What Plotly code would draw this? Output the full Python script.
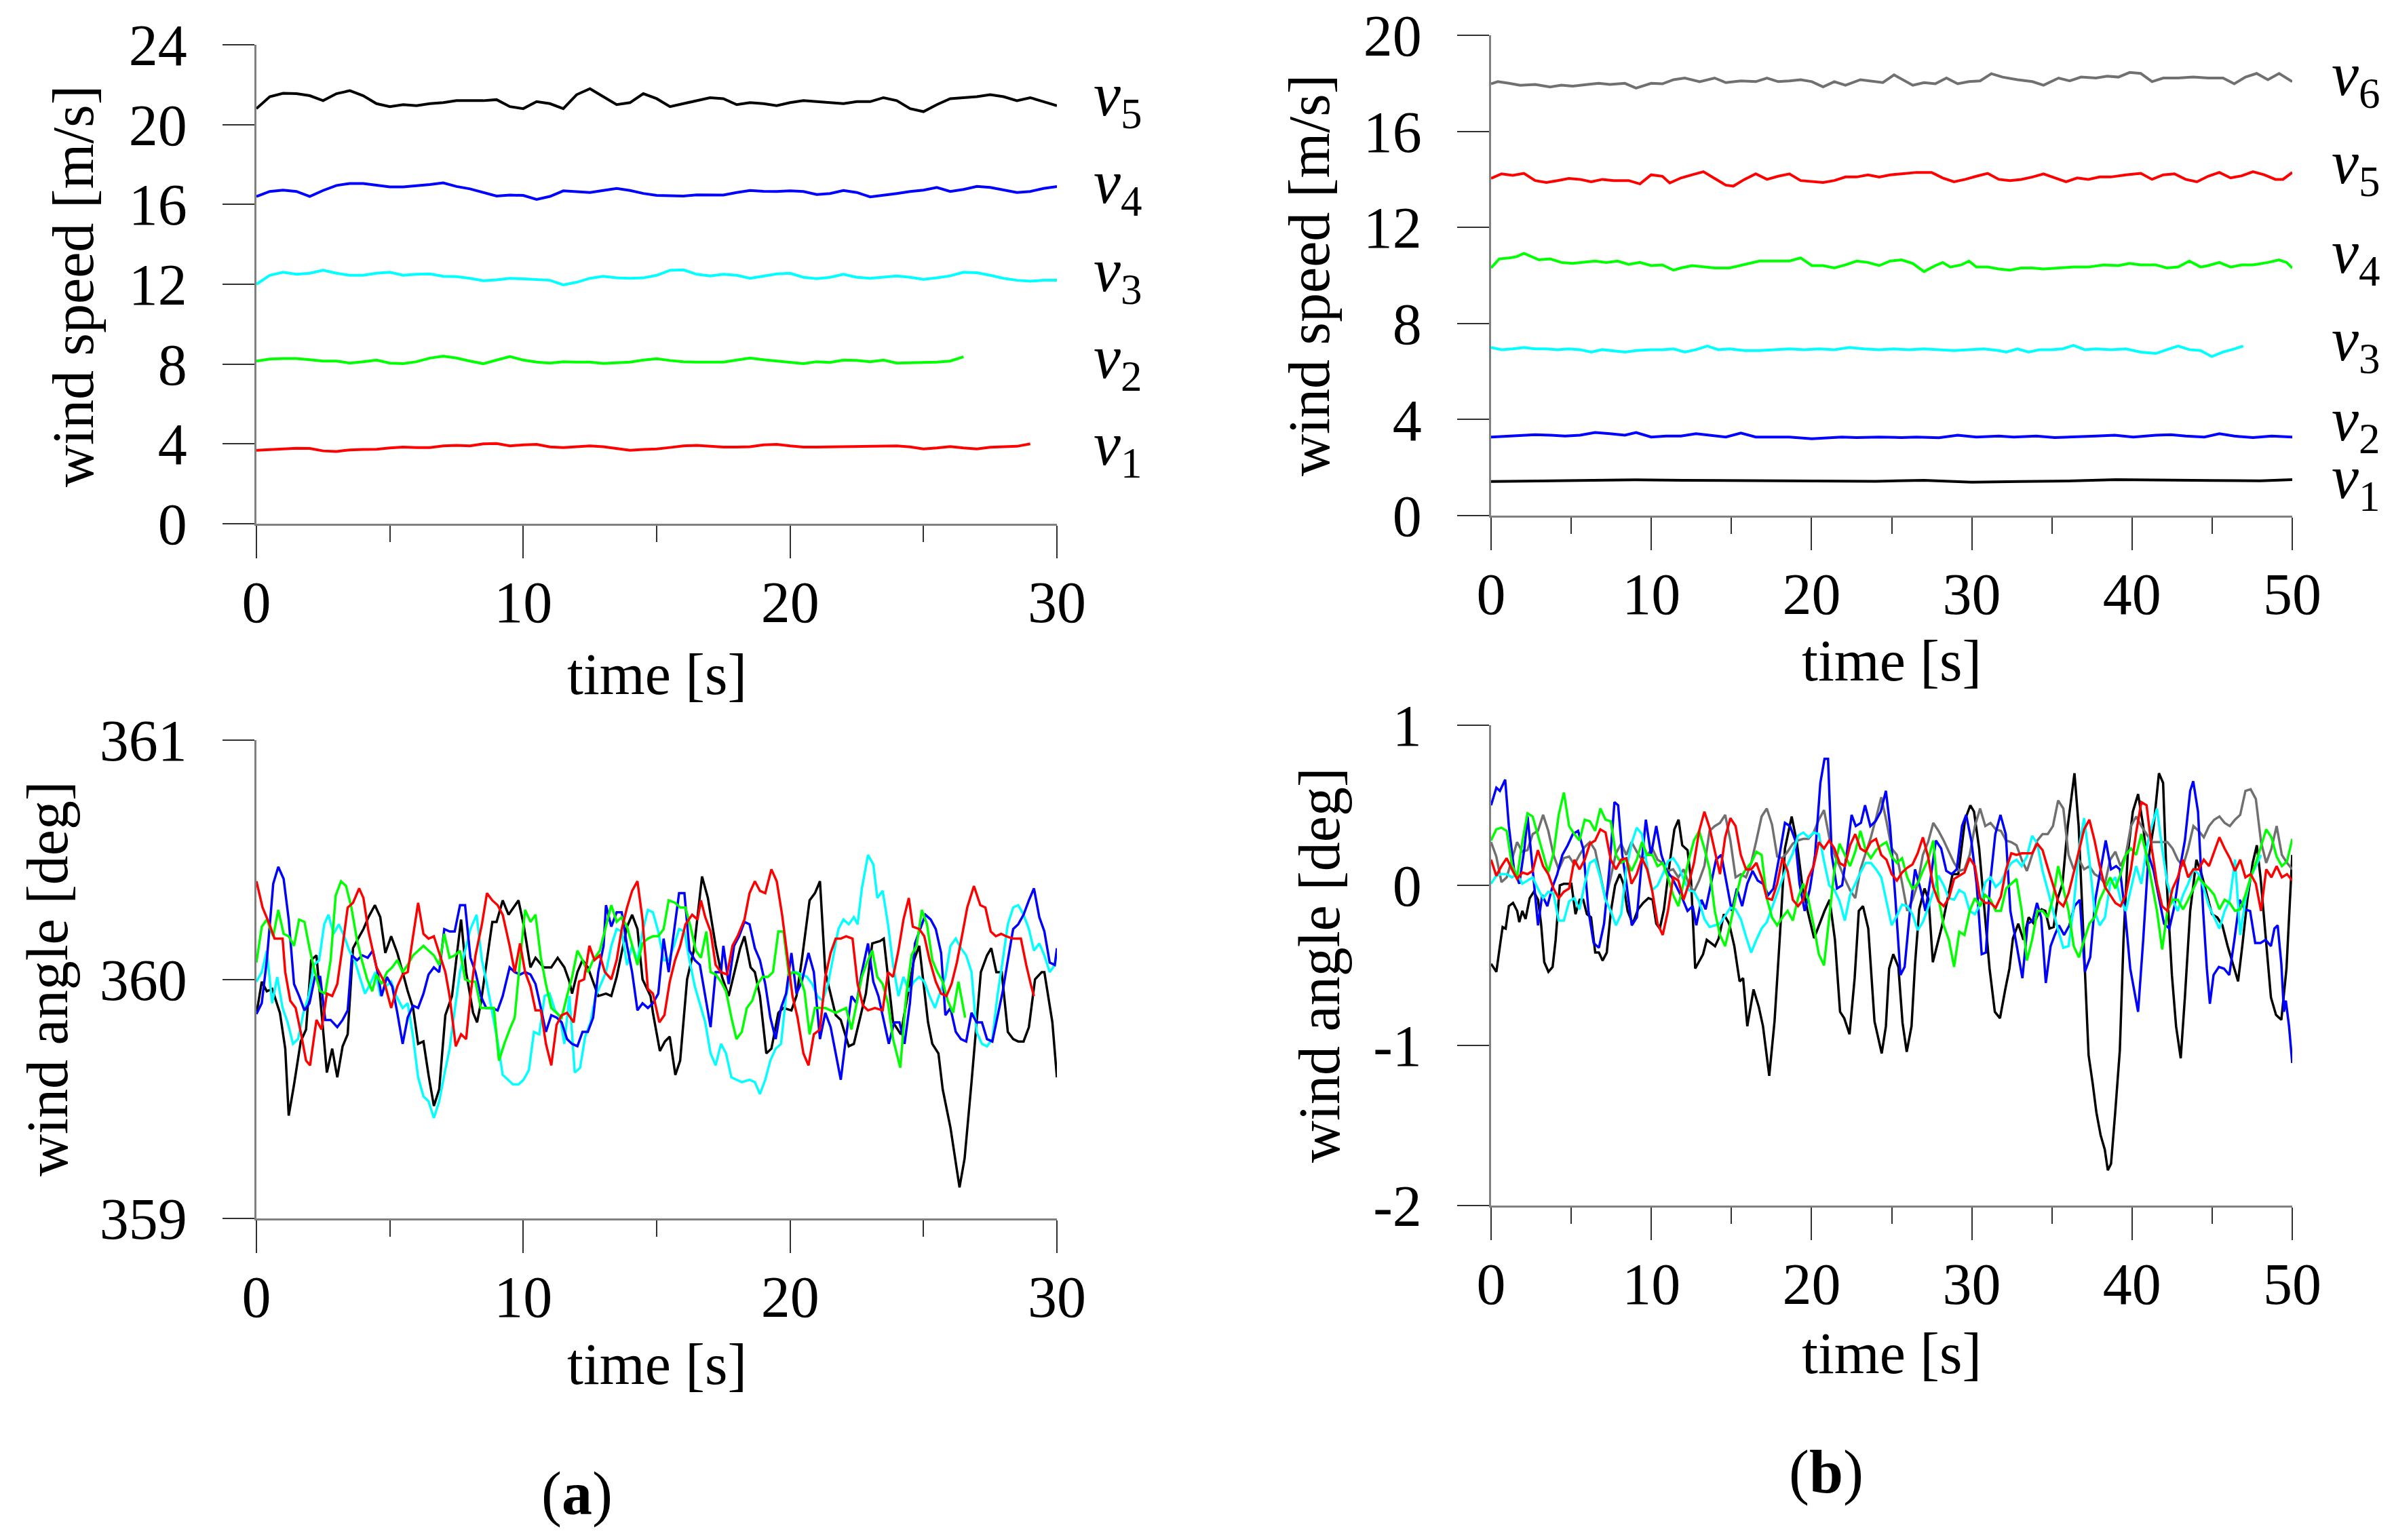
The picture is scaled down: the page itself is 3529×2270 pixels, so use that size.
import plotly.graph_objects as go

# ---------------- data: panel (a), wind speed (sampled every 0.5 s) ----------------
t_a_top = [i * 0.5 for i in range(61)]
a_v5 = [20.8,21.4,21.57,21.55,21.45,21.2,21.55,21.7,21.45,21.05, 20.9,21.0,20.95,21.05,21.1,21.2,21.2,21.2,21.25,20.9,
        20.8,21.15,21.05,20.8,21.5,21.8,21.4,21.0,21.1,21.55, 21.3,20.9,21.05,21.2,21.35,21.3,21.0,21.1,21.05,20.95,
        21.1,21.2,21.15,21.1,21.05,21.15,21.15,21.35,21.2,20.8, 20.65,21.0,21.3,21.35,21.4,21.5,21.4,21.2,21.35,21.15, 20.95]
a_v4 = [16.4,16.65,16.72,16.65,16.4,16.7,16.95,17.05,17.05,16.95, 16.88,16.88,16.93,17.0,17.08,16.9,16.78,16.6,16.42,16.47,
        16.45,16.25,16.4,16.68,16.65,16.6,16.7,16.8,16.7,16.55, 16.45,16.42,16.42,16.48,16.48,16.47,16.6,16.7,16.66,16.65,
        16.68,16.65,16.5,16.55,16.7,16.6,16.38,16.45,16.55,16.65, 16.72,16.85,16.65,16.75,16.9,16.85,16.72,16.6,16.65,16.8, 16.9]
a_v3 = [12.0,12.45,12.6,12.5,12.55,12.7,12.55,12.45,12.45,12.55, 12.6,12.45,12.5,12.52,12.4,12.38,12.3,12.18,12.22,12.3,
        12.27,12.23,12.2,11.97,12.1,12.3,12.4,12.32,12.3,12.32, 12.45,12.7,12.72,12.5,12.42,12.5,12.45,12.3,12.4,12.52,
        12.55,12.35,12.28,12.35,12.5,12.35,12.3,12.35,12.42,12.35, 12.25,12.32,12.42,12.6,12.58,12.45,12.3,12.2,12.15,12.2, 12.2]
a_v2 = [8.15,8.25,8.28,8.28,8.22,8.15,8.15,8.05,8.12,8.2, 8.05,8.02,8.12,8.3,8.4,8.3,8.15,8.02,8.2,8.38,
        8.2,8.1,8.05,8.12,8.1,8.1,8.03,8.05,8.1,8.2, 8.27,8.18,8.12,8.1,8.1,8.1,8.2,8.3,8.22,8.15,
        8.07,8.02,8.12,8.08,8.2,8.18,8.12,8.2,8.05,8.05, 8.08,8.1,8.15,8.37]
a_v1 = [3.68,3.72,3.77,3.78,3.77,3.65,3.62,3.7,3.72,3.73, 3.8,3.84,3.82,3.82,3.9,3.93,3.9,4.0,4.02,3.9,
        3.95,3.98,3.85,3.82,3.86,3.9,3.86,3.78,3.68,3.72, 3.75,3.82,3.9,3.93,3.88,3.84,3.84,3.86,3.95,3.98,
        3.9,3.84,3.84,3.85,3.84,3.84,3.85,3.88,3.9,3.85, 3.75,3.8,3.87,3.8,3.75,3.83,3.85,3.88,4.0]

# ---------------- data: panel (a), wind angle ----------------
t_ab_black = [0,0.2,0.39,0.59,0.88,1.08,1.21,1.41,1.66,1.86, 2.05,2.25,2.64,2.84,3.03,3.23,3.42,3.62,3.81,4.01,
              4.2,4.44,4.64,4.83,5.05,5.28,5.48,5.67,5.87,6.06, 6.26,6.45,6.65,6.85,7.08,7.33,7.53,7.67,7.86,8.12,
              8.27,8.41,8.84,9.0,9.23,9.45,9.82,10.01,10.27,10.46, 10.76,11.05,11.29,11.54,11.73,11.83,12.03,12.22,12.42,12.62,
              12.81,13.1,13.3,13.5,13.89,14.08,14.28,14.47,14.77,14.86, 15.12,15.31,15.49,15.7,15.88,16.14,16.39,16.7,16.92,17.21,
              17.45,17.7,17.9,18.13,18.29,18.52,18.68,18.87,19.11,19.3, 19.56,19.75,20.05,20.24,20.44,20.73,20.93,21.12,21.32,21.71,
              21.9,22.2,22.39,22.59,22.84,23.08,23.37,23.51,23.86,24.15, 24.64,24.84,25.03,25.17,25.33,25.56,25.72,26.01,26.35,26.54,
              26.8,26.99,27.15,27.38,27.54,27.73,27.93,28.16,28.36,28.55, 28.75,28.95,29.18,29.43,29.53,29.83,30]
ab_black = [359.855,359.99,359.95,359.96,359.86,359.71,359.43,359.56,359.74,359.79, 360.08,360.1,359.61,359.71,359.59,359.72,359.77,360.13,360.17,360.21,
            360.26,360.31,360.26,360.11,360.18,360.11,360.03,359.95,359.88,359.73, 359.74,359.6,359.47,359.54,359.85,359.93,360.12,360.25,360.03,359.86,
            359.82,359.9,360.24,360.24,360.33,360.27,360.33,360.23,360.05,360.09, 360.05,360.05,360.09,360.05,359.99,359.94,360.03,360.08,360.05,359.99,
            359.93,359.94,359.93,360.01,360.22,360.27,360.21,360.0,359.93,359.86, 359.7,359.74,359.76,359.6,359.66,360.0,360.12,360.43,360.34,360.14,
            360.01,359.93,360.02,360.13,360.18,360.05,360.03,359.93,359.69,359.71, 359.86,359.88,359.87,359.93,360.08,360.33,360.36,360.41,360.03,359.85,
            359.83,359.72,359.73,359.82,359.94,360.15,360.16,360.17,359.82,359.77, 360.08,360.14,359.95,359.82,359.73,359.69,359.54,359.38,359.13,359.25,
            359.57,359.82,360.03,360.1,360.13,360.03,360.03,359.78,359.75,359.74, 359.74,359.8,360.0,360.03,360.03,359.82,359.59]

t_ab_red = [0,0.23,0.49,0.68,0.98,1.08,1.27,1.47,1.66,1.86, 2.01,2.25,2.44,2.64,2.84,3.03,3.23,3.42,3.62,3.85,
            4.01,4.2,4.5,4.79,5.05,5.28,5.48,5.67,5.87,6.06, 6.26,6.45,6.65,6.88,7.08,7.24,7.47,7.67,7.86,8.02,
            8.21,8.45,8.64,8.84,9.04,9.23,9.49,9.68,9.88,10.07, 10.27,10.46,10.66,10.85,11.05,11.25,11.44,11.64,11.89,12.09,
            12.28,12.48,12.67,12.87,13.06,13.3,13.5,13.69,13.89,14.08, 14.28,14.47,14.67,14.86,15.1,15.29,15.49,15.69,15.88,16.08,
            16.33,16.53,16.66,16.82,17.02,17.21,17.41,17.64,17.84,18.03, 18.29,18.48,18.68,18.87,19.07,19.3,19.5,19.7,19.89,20.09,
            20.28,20.5,20.69,20.89,21.12,21.32,21.52,21.71,21.9,22.1, 22.34,22.53,22.73,22.92,23.18,23.47,23.67,23.86,24.06,24.25,
            24.45,24.6,24.84,25.03,25.23,25.46,25.66,25.86,26.05,26.25, 26.44,26.64,26.89,27.13,27.32,27.52,27.71,27.91,28.1,28.36,
            28.65,28.85,29.04,29.14]
ab_red = [360.41,360.3,360.23,360.17,360.17,360.03,359.91,359.88,359.78,359.66, 359.64,359.83,359.79,359.94,359.93,359.98,360.14,360.3,360.32,360.38,
          360.34,360.2,360.05,359.99,359.88,359.97,360.02,360.03,360.18,360.32, 360.19,360.17,360.18,360.1,360.03,359.93,359.72,359.77,359.75,359.93,
          360.1,360.23,360.36,360.33,360.31,360.27,360.14,360.03,360.15,360.03, 359.97,359.87,359.87,359.73,359.64,359.81,359.85,359.86,359.82,359.99,
          360.0,360.14,360.08,360.1,360.03,360.0,360.08,360.21,360.3,360.37, 360.41,360.25,359.96,359.94,359.82,359.85,359.99,360.08,360.14,360.23,
          360.27,360.25,360.33,360.26,360.2,360.06,360.03,360.02,360.14,360.18, 360.25,360.36,360.41,360.37,360.36,360.46,360.41,360.27,360.11,359.93,
          359.84,359.69,359.64,359.77,359.79,360.01,360.11,360.17,360.17,360.18, 360.17,359.98,359.89,359.87,359.88,359.87,360.03,360.01,360.12,360.25,
          360.34,360.22,360.21,360.18,360.08,359.99,359.94,359.93,359.98,360.07, 360.18,360.3,360.39,360.31,360.3,360.2,360.18,360.19,360.18,360.17,
          360.17,360.06,359.97,359.93]

t_ab_blue = [0,0.2,0.39,0.63,0.82,1.02,1.21,1.41,1.6,1.8, 1.99,2.19,2.39,2.58,2.78,3.03,3.23,3.42,3.58,3.77,
             3.97,4.17,4.36,4.54,4.69,4.89,5.09,5.28,5.48,5.67, 5.87,6.06,6.26,6.45,6.65,6.85,7.04,7.24,7.43,7.63,
             7.82,8.02,8.21,8.41,8.61,8.84,9.04,9.23,9.49,9.68, 9.88,10.07,10.27,10.46,10.66,10.85,11.05,11.25,11.44,11.64,
             11.83,12.03,12.22,12.42,12.62,12.81,13.01,13.1,13.3,13.5, 13.69,13.89,14.08,14.28,14.47,14.67,14.86,15.06,15.26,15.45,
             15.65,15.84,16.04,16.23,16.43,16.62,16.82,17.02,17.21,17.41, 17.5,17.7,17.9,18.09,18.29,18.48,18.68,18.87,19.07,19.26,
             19.46,19.66,19.85,20.05,20.24,20.44,20.69,20.89,21.12,21.32, 21.52,21.71,21.9,22.1,22.3,22.49,22.69,22.92,23.12,23.31,
             23.51,23.7,23.9,24.1,24.29,24.49,24.68,24.88,25.07,25.27, 25.46,25.66,25.82,26.01,26.21,26.4,26.6,26.8,26.99,27.19,
             27.38,27.58,27.77,27.97,28.16,28.36,28.55,28.75,28.95,29.14, 29.34,29.53,29.73,29.92,30]
ab_blue = [359.855,359.9,360.08,360.4,360.47,360.42,360.25,359.98,359.93,359.87, 359.9,360.01,360.01,359.83,359.83,359.8,359.83,359.87,360.1,360.08,
           360.1,360.09,360.12,360.03,359.93,360.01,359.97,359.86,359.73,359.84, 359.89,359.88,359.94,360.02,360.05,360.03,360.21,360.2,360.2,360.31,
           360.31,360.09,360.03,359.93,359.88,359.88,359.87,359.93,360.05,360.03, 360.02,360.03,360.02,359.98,359.88,359.78,359.85,359.84,359.82,359.75,
           359.73,359.72,359.78,359.78,359.84,360.03,360.14,360.31,360.22,360.28, 360.28,360.14,360.03,359.87,359.9,359.88,359.9,359.94,360.17,360.03,
           360.2,360.36,360.36,360.12,360.08,360.06,359.93,359.8,360.03,360.03, 360.14,359.98,360.14,360.18,360.24,360.23,360.13,360.08,359.98,359.84,
           359.75,359.88,359.94,360.11,359.94,359.99,360.11,360.03,359.75,359.86, 359.8,359.69,359.58,359.76,359.93,359.9,360.03,360.15,359.99,359.93,
           359.83,359.73,359.82,359.82,359.73,359.9,360.15,360.21,360.27,360.25, 360.21,360.11,359.85,359.88,359.78,359.75,359.74,359.86,359.82,359.82,
           359.75,359.74,359.84,359.95,360.08,360.21,360.23,360.27,360.33,360.38, 360.26,360.2,360.07,360.06,360.13]

t_ab_green = [0,0.2,0.39,0.63,0.82,1.02,1.21,1.41,1.6,1.8, 1.99,2.19,2.39,2.58,2.78,2.97,3.17,3.36,3.56,3.76,
              3.95,4.15,4.34,4.5,4.69,4.89,5.09,5.28,5.48,5.67, 5.87,6.06,6.26,6.45,6.65,6.85,7.04,7.24,7.43,7.63,
              7.82,8.02,8.21,8.41,8.61,8.9,9.09,9.29,9.49,9.68, 9.88,10.07,10.27,10.46,10.66,10.85,11.05,11.25,11.44,11.64,
              11.83,12.03,12.22,12.42,12.62,12.87,13.06,13.3,13.5,13.69, 13.89,14.08,14.28,14.47,14.67,14.86,15.06,15.26,15.45,15.69,
              15.88,16.08,16.27,16.47,16.66,16.86,17.02,17.21,17.41,17.6, 17.8,17.99,18.19,18.38,18.58,18.78,18.97,19.17,19.36,19.56,
              19.75,19.95,20.14,20.34,20.54,20.73,20.93,21.12,21.32,21.52, 21.71,21.9,22.1,22.3,22.49,22.69,22.88,23.08,23.27,23.47,
              23.67,23.86,24.13,24.35,24.55,24.74,24.94,25.13,25.33,25.52, 25.72,25.91,26.11,26.31,26.56]
ab_green = [360.07,360.22,360.25,360.18,360.29,360.19,360.18,360.14,360.25,360.24, 360.13,360.03,359.95,359.94,360.08,360.35,360.41,360.39,360.3,360.17,
            360.08,360.0,359.95,360.02,359.98,360.03,360.05,360.08,360.03,360.06, 360.1,360.12,360.14,360.12,360.1,360.06,360.19,360.09,360.1,360.12,
            360.0,359.99,359.99,359.88,359.88,359.88,359.66,359.73,359.79,359.84, 360.08,360.29,360.24,360.27,360.09,359.98,359.88,359.86,359.84,359.93,
            360.01,360.12,360.08,360.03,360.08,360.12,360.2,360.31,360.24,360.26, 360.22,360.14,360.06,360.15,360.17,360.18,360.18,360.21,360.33,360.32,
            360.3,360.3,360.22,360.12,360.09,360.2,360.03,360.02,359.99,359.95, 359.84,359.75,359.78,359.88,359.91,359.98,360.01,360.01,360.03,360.2,
            360.2,360.02,360.03,360.02,359.95,359.77,359.88,359.88,359.88,359.87, 359.86,359.87,359.88,359.79,359.9,360.01,360.07,360.12,360.01,359.98,
            359.9,359.75,359.63,359.93,360.1,360.14,360.29,360.23,360.08,360.03, 359.99,359.91,359.86,359.99,359.84]

t_ab_cyan = [0,0.2,0.39,0.59,0.78,0.98,1.17,1.37,1.56,1.76, 1.96,2.15,2.35,2.54,2.7,2.89,3.09,3.29,3.48,3.68,
             3.87,4.07,4.26,4.46,4.65,4.85,5.05,5.24,5.48,5.67, 5.87,6.06,6.26,6.45,6.65,6.85,7.04,7.24,7.43,7.63,
             7.82,8.02,8.25,8.45,8.64,8.84,9.04,9.23,9.43,9.62, 9.82,10.01,10.21,10.4,10.6,10.8,10.99,11.19,11.38,11.54,
             11.73,11.93,12.13,12.32,12.52,12.71,12.91,13.1,13.3,13.5, 13.69,13.89,14.08,14.28,14.47,14.67,14.86,15.06,15.26,15.45,
             15.65,15.84,16.04,16.23,16.43,16.62,16.82,17.02,17.21,17.41, 17.6,17.8,17.99,18.19,18.48,18.68,18.87,19.07,19.26,19.46,
             19.66,19.85,20.05,20.24,20.44,20.63,20.83,21.02,21.22,21.42, 21.61,21.81,22.0,22.2,22.39,22.53,22.69,22.92,23.12,23.27,
             23.47,23.67,23.86,24.06,24.25,24.45,24.64,24.84,25.03,25.23, 25.43,25.62,25.82,26.01,26.21,26.4,26.6,26.8,26.99,27.19,
             27.38,27.58,27.77,27.97,28.16,28.36,28.55,28.75,28.95,29.14, 29.34,29.53,29.73,29.92,30]
ab_cyan = [359.99,360.03,360.12,359.9,360.01,359.88,359.82,359.73,359.75,359.86, 359.93,360.06,360.08,360.23,360.27,360.19,360.23,360.18,360.12,360.08,
           360.01,359.94,359.98,360.03,359.93,359.97,359.99,359.93,359.88,359.9, 359.76,359.59,359.51,359.49,359.42,359.49,359.6,359.71,359.87,360.03,
           360.12,360.21,360.27,360.08,359.98,359.86,359.74,359.6,359.58,359.56, 359.56,359.58,359.62,359.78,359.77,359.93,359.94,359.87,359.84,359.73,
           359.93,359.61,359.63,359.76,359.82,359.93,359.98,360.03,360.14,360.21, 360.2,360.06,360.14,360.08,360.2,360.29,360.28,360.2,360.08,360.08,
           360.14,360.21,360.2,360.08,359.97,359.9,359.82,359.69,359.64,359.73, 359.69,359.59,359.58,359.57,359.58,359.57,359.52,359.58,359.66,359.71,
           359.73,359.93,360.03,360.03,360.02,360.01,359.98,359.93,359.91,359.98, 360.09,360.21,360.25,360.23,360.26,360.23,360.38,360.52,360.48,360.34,
           360.37,360.23,360.06,359.93,360.01,359.95,359.99,360.01,359.99,359.93, 359.88,359.94,360.01,360.14,360.17,360.13,360.1,360.03,359.78,359.73,
           359.72,359.75,359.93,360.08,360.23,360.3,360.31,360.27,360.21,360.12, 360.15,360.1,360.03,360.06,360.12]

# ---------------- data: panel (b), wind speed ----------------
t_b_v6 = [0,0.42,1.12,1.82,2.75,3.69,4.39,5.09,6.02,6.72, 7.42,8.35,9.05,9.99,10.69,11.39,12.09,13.02,13.95,14.65,
          15.59,16.52,17.22,17.92,18.62,19.32,20.02,20.72,21.42,22.12, 23.05,23.75,24.45,25.15,25.85,26.32,27.02,27.72,28.42,29.12,
          29.82,30.52,31.22,31.92,32.85,33.78,34.48,35.42,36.12,36.82, 37.75,38.45,39.15,39.85,40.55,41.25,41.95,42.88,43.82,44.75,
          45.68,46.38,47.08,47.78,48.48,49.18,50]
b_v6 = [17.98,18.07,18.0,17.92,17.95,17.85,17.92,17.88,17.95,18.0, 17.95,18.0,17.8,18.0,17.98,18.15,18.22,18.07,18.22,18.03,
        18.1,18.07,18.22,18.07,18.1,18.15,18.07,17.85,18.07,17.92, 18.15,18.1,18.03,18.35,18.1,17.92,18.03,17.98,18.22,17.98,
        18.07,18.1,18.4,18.26,18.15,18.07,17.92,18.22,18.1,18.26, 18.22,18.3,18.26,18.45,18.41,18.07,18.22,18.22,18.26,18.22,
        18.22,17.98,18.26,18.41,18.15,18.41,18.07]
t_b_v5 = [0,0.65,1.35,2.05,2.75,3.45,4.15,4.85,5.55,6.25, 6.95,7.65,8.59,9.29,9.99,10.69,11.15,11.85,12.55,13.25,
          13.95,14.65,15.12,15.82,16.52,17.22,17.92,18.62,19.32,20.02, 20.72,21.42,22.12,22.82,23.52,24.22,24.92,25.62,26.55,27.49,
          28.19,28.89,29.59,30.29,30.99,31.69,32.39,33.09,33.79,34.48, 35.18,35.88,36.58,37.28,37.98,38.68,39.62,40.55,41.25,41.95,
          42.65,43.35,44.05,44.75,45.45,46.15,46.85,47.55,48.25,48.95, 49.42,50]
b_v5 = [14.04,14.23,14.17,14.25,13.95,13.87,13.95,14.04,14.0,13.9, 14.0,13.95,13.95,13.81,14.19,14.13,13.85,14.06,14.19,14.32,
        14.04,13.76,13.72,14.0,14.23,14.0,14.13,14.23,13.95,13.9, 13.87,13.95,14.1,14.1,14.19,14.1,14.19,14.23,14.29,14.29,
        14.06,13.9,14.0,14.13,14.25,14.0,13.95,14.0,14.1,14.23, 14.06,13.9,14.06,14.0,14.1,14.1,14.19,14.25,14.0,14.19,
        14.23,14.0,13.9,14.13,14.29,14.06,14.15,14.32,14.19,14.0, 14.0,14.29]
t_b_v4 = [0,0.51,1.12,1.59,2.05,2.52,2.99,3.69,4.39,5.09, 5.79,6.49,7.19,7.89,8.59,9.29,9.99,10.69,11.39,11.85,
          12.55,13.25,13.95,14.89,15.82,16.75,17.69,18.62,19.32,20.02, 20.72,21.42,22.12,22.82,23.52,24.22,24.92,25.62,26.32,27.02,
          27.72,28.19,28.66,29.35,29.82,30.29,30.99,31.69,32.39,33.09, 33.79,34.48,35.42,36.35,37.28,38.22,39.15,39.85,40.55,41.48,
          42.18,42.88,43.58,44.28,44.75,45.45,46.15,46.85,47.55,48.48, 49.18,49.65,50]
b_v4 = [10.31,10.69,10.73,10.78,10.92,10.78,10.65,10.69,10.54,10.5, 10.54,10.6,10.54,10.6,10.46,10.54,10.41,10.44,10.22,10.31,
        10.41,10.35,10.31,10.31,10.46,10.6,10.6,10.6,10.73,10.41, 10.41,10.31,10.44,10.6,10.54,10.41,10.6,10.65,10.5,10.16,
        10.41,10.54,10.35,10.44,10.6,10.35,10.35,10.27,10.22,10.31, 10.31,10.27,10.31,10.35,10.35,10.44,10.41,10.5,10.44,10.44,
        10.31,10.35,10.6,10.35,10.41,10.54,10.35,10.44,10.44,10.54, 10.65,10.54,10.31]
t_b_v3 = [0,0.65,1.35,2.05,2.75,3.45,4.15,4.85,5.55,6.25, 6.95,7.65,8.35,9.05,9.99,10.69,11.39,12.09,12.79,13.49,
          14.19,14.89,15.82,16.75,17.69,18.62,19.55,20.49,21.42,22.35, 23.29,24.22,25.15,26.09,27.02,27.95,28.89,29.82,30.75,31.69,
          32.15,32.85,33.55,34.25,34.95,35.65,36.35,37.05,37.75,38.68, 39.62,40.55,41.48,42.18,42.88,43.58,44.28,44.98,45.68,46.38, 46.94]
b_v3 = [7.0,6.91,6.94,7.0,6.94,6.94,6.91,6.94,6.91,6.81, 6.91,6.87,6.81,6.87,6.91,6.91,6.94,6.81,6.91,7.06,
        6.91,6.94,6.87,6.87,6.91,6.94,6.91,6.94,6.91,7.0, 6.94,6.91,6.94,6.91,6.94,6.91,6.87,6.91,6.94,6.87,
        6.81,6.94,6.81,6.91,6.91,6.94,7.09,6.91,6.94,6.91, 6.94,6.81,6.75,6.91,7.06,6.91,6.87,6.62,6.81,6.94, 7.06]
t_b_v2 = [0,0.89,1.82,2.75,3.69,4.62,5.55,6.49,7.42,8.35, 9.05,9.99,10.92,11.85,12.79,13.72,14.65,15.59,16.52,17.45,
          18.62,20.02,20.95,21.88,22.82,24.22,25.62,26.55,27.95,29.12, 30.29,31.69,32.62,34.02,35.18,36.35,37.75,38.92,40.08,41.48,
          42.42,43.35,44.52,45.45,46.38,47.55,48.72,50]
b_v2 = [3.27,3.31,3.35,3.37,3.35,3.31,3.35,3.46,3.41,3.35, 3.46,3.27,3.31,3.31,3.41,3.35,3.27,3.44,3.27,3.27,
        3.27,3.2,3.24,3.27,3.25,3.27,3.25,3.27,3.24,3.35, 3.27,3.31,3.27,3.31,3.25,3.27,3.31,3.35,3.27,3.35,
        3.37,3.31,3.27,3.41,3.31,3.25,3.31,3.27]
t_b_v1 = [0,3,6,9,12,15,18,21,24,27,30,33,36,39,42,45,48,50]
b_v1 = [1.42,1.44,1.47,1.49,1.47,1.46,1.45,1.44,1.43,1.47,1.39,1.42,1.44,1.5,1.47,1.46,1.45,1.5]

# ---------------- data: panel (b), wind angle ----------------
t_bb_grid = [round(i * 50 / 154, 3) for i in range(155)]
bb_red = [0.16,0.06,0.12,0.17,0.1,0.04,0.08,0.07,0.09,0.22, 0.12,0.07,-0.02,-0.08,-0.04,-0.02,0.16,0.1,0.16,0.26,
          0.28,0.35,0.33,0.16,0.1,0.16,0.17,0.01,0.07,0.17, 0.1,-0.04,-0.24,-0.31,-0.16,0.05,0.03,-0.09,0.01,0.14,
          0.34,0.46,0.36,0.22,0.07,0.3,0.42,0.37,0.19,0.1, 0.1,0.14,0.05,-0.08,-0.09,0.01,0.17,0.09,-0.09,-0.13,
          -0.09,0.05,0.12,0.27,0.23,0.28,0.23,0.14,0.12,0.25, 0.32,0.23,0.21,0.27,0.29,0.19,0.16,0.07,0.03,0.08,
          0.11,0.13,0.2,0.3,0.18,-0.01,-0.1,-0.13,-0.08,0.04, 0.06,0.08,0.17,0.12,-0.08,-0.11,-0.11,-0.14,-0.07,0.1,
          0.2,0.19,0.2,0.2,0.2,0.26,0.22,0.11,0.0,-0.1, -0.13,-0.05,0.08,0.22,0.35,0.41,0.28,0.12,-0.01,-0.06,
          -0.11,-0.13,-0.06,0.1,0.33,0.52,0.5,0.23,0.01,-0.13, -0.16,-0.02,0.05,0.16,0.05,0.1,0.1,0.16,0.12,0.21,
          0.3,0.23,0.17,0.09,0.16,0.05,0.07,0.01,-0.16,0.1, 0.05,0.12,0.05,0.07,0.03]
bb_cyan = [0.01,0.06,0.07,0.07,0.05,0.07,0.01,0.03,0.05,-0.02, -0.08,-0.04,-0.05,-0.22,-0.22,-0.1,-0.08,-0.15,0.01,0.14,
           0.16,0.05,-0.09,-0.16,-0.25,-0.18,0.1,0.26,0.36,0.32, 0.12,-0.03,0.0,0.07,0.15,0.17,0.12,0.04,-0.03,-0.04,
           -0.1,-0.21,-0.26,-0.25,-0.24,-0.19,-0.14,-0.15,-0.21,-0.32, -0.42,-0.34,-0.27,-0.23,-0.14,-0.06,0.03,0.13,0.2,0.31,
           0.33,0.3,0.33,0.32,0.15,0.0,-0.03,-0.1,-0.22,-0.06, 0.01,0.08,0.14,0.14,0.1,0.05,-0.1,-0.25,-0.19,-0.12,
           -0.13,-0.18,-0.28,-0.23,-0.14,-0.04,0.06,0.0,-0.08,-0.09, -0.03,-0.05,-0.16,-0.18,-0.12,0.02,0.05,-0.01,0.02,0.09,
           0.14,0.16,0.12,0.18,0.31,0.26,0.09,-0.03,-0.16,-0.28, -0.39,-0.38,-0.13,0.23,0.42,0.16,-0.16,-0.25,-0.2,0.01,
           0.05,-0.09,-0.16,-0.02,0.12,0.01,0.23,0.37,0.48,0.23, 0.01,-0.09,-0.16,-0.06,0.01,0.1,0.07,-0.02,-0.13,-0.2,
           -0.27,-0.16,-0.09,0.16,-0.31,-0.09,0.05,0.12,0.19]
bb_grey = [0.27,0.18,0.02,0.05,0.16,0.27,0.21,0.22,0.32,0.34, 0.44,0.34,0.19,0.1,0.17,0.18,0.13,0.19,0.24,0.27,
           0.22,0.07,-0.09,0.05,0.2,0.26,0.19,0.27,0.21,0.16, 0.19,0.23,0.16,0.14,0.09,0.1,0.05,0.1,0.01,-0.04,
           0.03,0.12,0.34,0.37,0.39,0.44,0.28,0.05,0.07,0.05, 0.14,0.28,0.43,0.48,0.38,0.18,0.17,0.21,0.26,0.28,
           0.29,0.29,0.33,0.41,0.47,0.3,0.19,0.12,0.04,-0.03, -0.08,0.1,0.2,0.3,0.42,0.55,0.4,0.23,0.19,0.01,
           -0.16,-0.09,0.01,0.19,0.27,0.39,0.34,0.28,0.21,0.14, 0.09,0.1,0.19,0.37,0.48,0.37,0.39,0.35,0.34,0.28,
           0.27,0.25,0.16,0.09,0.19,0.28,0.32,0.32,0.37,0.53, 0.48,0.19,0.1,0.16,0.1,0.12,0.07,0.05,0.01,0.16,
           0.21,0.12,0.19,0.37,0.43,0.37,0.32,0.27,0.27,0.27, 0.27,0.23,0.16,0.12,0.23,0.37,0.34,0.3,0.37,0.41,
           0.43,0.39,0.37,0.41,0.44,0.59,0.6,0.54,0.27,0.14, 0.23,0.37,0.19,0.14,0.1]
bb_green = [0.28,0.35,0.36,0.34,0.13,0.05,0.27,0.45,0.43,0.31, 0.2,0.08,0.2,0.44,0.58,0.37,0.32,0.28,0.41,0.4,
            0.34,0.48,0.41,0.4,0.19,0.14,0.16,0.09,0.16,0.27, 0.19,0.19,0.12,0.14,0.05,-0.06,-0.13,0.01,0.16,0.28,
            0.34,0.23,0.1,-0.16,-0.31,-0.38,-0.24,-0.08,0.05,0.1, 0.14,0.21,0.19,-0.08,-0.2,-0.25,-0.2,-0.16,-0.22,-0.08,
            0.01,-0.09,-0.25,-0.43,-0.5,-0.2,0.1,0.26,0.19,0.12, 0.21,0.34,0.22,0.17,0.22,0.25,0.27,0.18,0.14,0.17,
            0.05,-0.02,0.01,0.09,0.16,0.28,-0.08,-0.25,-0.34,-0.51, -0.29,-0.31,-0.16,-0.08,-0.13,-0.06,-0.09,-0.16,-0.16,-0.02,
            0.01,0.04,-0.16,-0.47,-0.34,-0.16,-0.16,-0.2,-0.08,0.12, -0.02,-0.16,-0.38,-0.45,-0.34,-0.24,-0.2,-0.09,-0.02,0.05,
            -0.02,0.07,0.19,0.23,0.19,0.32,0.19,0.01,-0.16,-0.4, -0.16,-0.09,-0.09,-0.15,-0.09,-0.02,0.05,0.01,-0.02,-0.06,
            -0.15,-0.09,-0.11,-0.16,-0.15,-0.06,0.05,0.14,0.25,0.35, 0.3,0.18,0.12,0.15,0.29]

t_bb_black = [0,0.33,0.55,0.72,0.91,1.11,1.37,1.63,1.76,1.95, 2.15,2.41,2.67,2.93,3.12,3.32,3.58,3.84,4.03,4.29,
              4.55,4.78,5.01,5.27,5.53,5.75,5.98,6.24,6.5,6.73, 6.96,7.22,7.48,7.74,8.03,8.26,8.52,8.84,9.17,9.49,
              9.82,10.08,10.31,10.53,10.79,11.12,11.44,11.7,11.93,12.26, 12.48,12.74,13.0,13.23,13.46,13.72,13.98,14.21,14.53,14.86,
              15.18,15.51,15.73,15.99,16.38,16.71,16.97,17.36,17.69,18.01, 18.34,18.76,19.08,19.41,19.73,20.16,20.48,20.81,21.13,21.46,
              21.78,22.04,22.37,22.69,22.95,23.21,23.54,23.93,24.38,24.64, 24.84,25.1,25.42,25.68,25.94,26.24,26.46,26.72,27.05,27.31,
              27.57,27.83,28.15,28.48,28.8,29.16,29.58,29.91,30.14,30.46, 30.79,31.11,31.44,31.76,32.09,32.35,32.57,32.9,33.22,33.55,
              33.88,34.14,34.36,34.59,34.85,35.11,35.37,35.66,35.99,36.41, 36.67,36.96,37.29,37.55,37.78,38.04,38.3,38.49,38.69,38.95,
              39.24,39.47,39.73,40.05,40.38,40.7,40.96,41.35,41.68,41.94, 42.17,42.49,42.75,43.04,43.3,43.63,44.02,44.34,44.67,44.99,
              45.32,45.64,45.97,46.29,46.62,46.88,47.2,47.53,47.79,48.02, 48.34,48.67,48.99,49.32,49.64,49.9,50]
bb_black = [-0.49,-0.54,-0.38,-0.26,-0.27,-0.13,-0.11,-0.16,-0.23,-0.16, -0.21,-0.08,-0.04,-0.09,-0.24,-0.48,-0.54,-0.51,-0.34,0.0,
            0.01,0.01,0.01,-0.18,-0.09,-0.09,-0.18,-0.2,-0.42,-0.42, -0.47,-0.42,-0.16,0.0,0.07,0.01,-0.16,-0.24,-0.15,-0.11,
            -0.08,-0.09,-0.24,-0.27,-0.15,0.12,0.35,0.41,0.25,0.22, 0.03,-0.52,-0.47,-0.43,-0.34,-0.36,-0.38,-0.33,-0.18,-0.24,
            -0.38,-0.6,-0.58,-0.88,-0.65,-0.76,-0.88,-1.19,-0.85,-0.34, 0.23,0.43,0.27,0.01,-0.15,-0.33,-0.25,-0.16,-0.09,-0.34,
            -0.79,-0.83,-0.93,-0.58,-0.16,-0.13,-0.27,-0.85,-1.05,-0.88, -0.52,-0.43,-0.51,-0.86,-1.04,-0.88,-0.49,-0.15,-0.02,-0.09,
            -0.48,-0.38,-0.25,-0.09,0.07,0.07,0.41,0.5,0.46,0.23, -0.16,-0.52,-0.79,-0.83,-0.65,-0.52,-0.33,-0.24,-0.34,-0.2,
            -0.24,-0.18,-0.15,-0.16,-0.27,-0.26,-0.08,0.01,0.37,0.7, 0.37,-0.34,-1.06,-1.24,-1.42,-1.56,-1.65,-1.78,-1.74,-1.42,
            -1.03,-0.34,0.19,0.46,0.57,0.37,0.12,0.37,0.7,0.64, 0.01,-0.56,-0.88,-1.08,-0.7,-0.16,0.16,0.07,-0.06,-0.18,
            -0.2,-0.25,-0.38,-0.49,-0.6,-0.38,-0.09,0.14,0.25,0.05, -0.34,-0.7,-0.81,-0.84,-0.52,0.01,0.19]

t_bb_blue = [0,0.33,0.55,0.88,1.11,1.43,1.76,2.08,2.28,2.5, 2.73,2.93,3.19,3.51,3.8,4.13,4.45,4.78,5.1,5.43,
             5.75,6.08,6.4,6.73,7.05,7.38,7.7,7.93,8.19,8.45, 8.78,9.1,9.36,9.66,9.98,10.31,10.63,10.96,11.28,11.61,
             11.93,12.26,12.58,12.81,13.13,13.39,13.72,14.04,14.37,14.69, 15.02,15.34,15.67,15.99,16.32,16.64,16.97,17.3,17.62,17.95,
             18.34,18.66,18.99,19.25,19.57,19.9,20.22,20.55,20.81,21.03, 21.26,21.59,21.91,22.24,22.5,22.76,23.08,23.34,23.67,23.99,
             24.32,24.64,24.9,25.23,25.55,25.81,26.14,26.46,26.79,27.11, 27.44,27.76,28.09,28.41,28.74,29.06,29.39,29.65,29.97,30.3,
             30.62,30.88,31.14,31.47,31.79,32.12,32.41,32.74,33.16,33.49, 33.81,34.07,34.33,34.62,34.92,35.18,35.44,35.76,36.09,36.41,
             36.74,37.06,37.39,37.71,38.04,38.36,38.69,39.01,39.24,39.56, 39.89,40.38,40.7,41.03,41.35,41.68,42.0,42.33,42.65,42.98,
             43.3,43.63,43.82,44.12,44.44,44.67,44.86,45.09,45.42,45.74, 46.07,46.39,46.72,47.04,47.37,47.69,48.02,48.34,48.67,48.89,
             49.09,49.32,49.48,49.6,49.8,50]
bb_blue = [0.5,0.61,0.59,0.66,0.37,0.1,0.01,0.23,0.43,0.19, -0.04,-0.25,-0.06,-0.13,-0.02,0.07,0.19,0.25,0.32,0.34,
           0.23,-0.16,-0.36,-0.39,-0.24,0.1,0.52,0.5,0.19,0.01, -0.25,-0.2,0.1,0.41,0.19,0.37,0.19,0.09,0.05,-0.02,
           -0.08,-0.16,-0.13,-0.25,-0.09,-0.15,0.01,0.16,0.19,0.01, -0.16,-0.02,-0.13,0.01,0.09,0.03,0.01,-0.06,-0.02,0.16,
           0.39,0.37,0.28,0.01,-0.16,-0.02,0.19,0.64,0.79,0.79, 0.19,-0.02,0.0,0.23,0.44,0.37,0.39,0.5,0.37,0.4,
           0.46,0.59,0.37,-0.08,-0.56,-0.51,-0.16,0.1,-0.02,-0.16, 0.05,0.28,0.23,0.09,0.07,0.1,0.37,0.44,0.28,0.01,
           -0.43,-0.42,0.01,0.32,0.44,0.32,-0.16,-0.34,-0.58,-0.24, -0.22,-0.11,-0.2,-0.61,-0.38,-0.31,-0.25,-0.31,-0.25,-0.13,
           -0.09,-0.54,-0.45,-0.09,0.1,0.28,0.1,0.12,0.1,-0.16, -0.52,-0.79,-0.34,0.19,0.09,-0.08,-0.24,-0.27,-0.13,0.1,
           0.28,0.59,0.65,0.46,-0.16,-0.52,-0.74,-0.56,-0.51,-0.52, -0.56,-0.34,-0.09,-0.15,-0.16,-0.36,-0.36,-0.34,-0.38,-0.27,
           -0.25,-0.49,-0.79,-0.72,-0.88,-1.11]

# ---------------- labels ----------------
speed_labels_a = ["1", "2", "3", "4", "5"]
speed_labels_b = ["1", "2", "3", "4", "5", "6"]

# ---------------- styling ----------------
FONT = "Liberation Serif, Times New Roman, Times, serif"
RED, GREEN, CYAN, BLUE, BLACK, GREY = "#FF0000", "#00FF00", "#00FFFF", "#0000FF", "#000000", "#707070"
W, H = 3529, 2270

fig = go.Figure()


def add(t, v, color, xa, ya, width):
    n = min(len(t), len(v))
    fig.add_trace(go.Scatter(x=t[:n], y=v[:n], mode="lines", xaxis=xa, yaxis=ya,
                             line=dict(color=color, width=width), showlegend=False, hoverinfo="skip"))


TOPW, BOTW = 4, 3.5
# panel (a) top
add(t_a_top, a_v5, BLACK, "x", "y", TOPW)
add(t_a_top, a_v4, BLUE, "x", "y", TOPW)
add(t_a_top, a_v3, CYAN, "x", "y", TOPW)
add(t_a_top, a_v2, GREEN, "x", "y", TOPW)
add(t_a_top, a_v1, RED, "x", "y", TOPW)
# panel (a) bottom
add(t_ab_black, ab_black, BLACK, "x2", "y2", BOTW)
add(t_ab_cyan, ab_cyan, CYAN, "x2", "y2", BOTW)
add(t_ab_blue, ab_blue, BLUE, "x2", "y2", BOTW)
add(t_ab_green, ab_green, GREEN, "x2", "y2", BOTW)
add(t_ab_red, ab_red, RED, "x2", "y2", BOTW)
# panel (b) top
add(t_b_v6, b_v6, GREY, "x3", "y3", TOPW)
add(t_b_v5, b_v5, RED, "x3", "y3", TOPW)
add(t_b_v4, b_v4, GREEN, "x3", "y3", TOPW)
add(t_b_v3, b_v3, CYAN, "x3", "y3", TOPW)
add(t_b_v2, b_v2, BLUE, "x3", "y3", TOPW)
add(t_b_v1, b_v1, BLACK, "x3", "y3", TOPW)
# panel (b) bottom
add(t_bb_black, bb_black, BLACK, "x4", "y4", BOTW)
add(t_bb_grid, bb_grey, GREY, "x4", "y4", BOTW)
add(t_bb_blue, bb_blue, BLUE, "x4", "y4", BOTW)
add(t_bb_grid, bb_cyan, CYAN, "x4", "y4", BOTW)
add(t_bb_grid, bb_green, GREEN, "x4", "y4", BOTW)
add(t_bb_grid, bb_red, RED, "x4", "y4", BOTW)

tickfont = dict(family=FONT, size=86, color="black")


def xax(domain, rng, vals, anchor):
    return dict(domain=domain, range=rng, tickmode="array", tickvals=vals, anchor=anchor,
                automargin=False,
                showline=True, linecolor="#808080", linewidth=3, mirror=False,
                ticks="outside", ticklen=48, tickwidth=2, tickcolor="#303030",
                minor=dict(ticks="outside", ticklen=24, tickwidth=2, tickcolor="#303030",
                           tick0=0, dtick=5, showgrid=False),
                showgrid=False, zeroline=False, tickfont=tickfont, ticklabelstandoff=-9)


def yax(domain, rng, vals, anchor, text=None):
    d = dict(domain=domain, range=rng, tickmode="array", tickvals=vals, anchor=anchor,
             automargin=False,
             showline=True, linecolor="#808080", linewidth=3,
             ticks="outside", ticklen=47, tickwidth=2, tickcolor="#303030",
             showgrid=False, zeroline=False, tickfont=tickfont, ticklabelstandoff=35)
    if text is not None:
        d["ticktext"] = text
    return d


XA = [378 / W, 1558 / W]
XB = [2198 / W, 3379 / W]
fig.update_layout(
    template="none",
    width=W, height=H, autosize=False,
    margin=dict(l=0, r=0, t=0, b=0, pad=0, autoexpand=False),
    paper_bgcolor="white", plot_bgcolor="white",
    font=dict(family=FONT, color="black"),
    showlegend=False,
    xaxis=xax(XA, [0, 30], [0, 10, 20, 30], "y"),
    yaxis=yax([1 - 772 / H, 1 - 66 / H], [0, 24], [0, 4, 8, 12, 16, 20, 24], "x"),
    xaxis2=xax(XA, [0, 30], [0, 10, 20, 30], "y2"),
    yaxis2=yax([1 - 1796 / H, 1 - 1091 / H], [359, 361], [359, 360, 361], "x2"),
    xaxis3=xax(XB, [0, 50], [0, 10, 20, 30, 40, 50], "y3"),
    yaxis3=yax([1 - 760 / H, 1 - 52 / H], [0, 20], [0, 4, 8, 12, 16, 20], "x3"),
    xaxis4=xax(XB, [0, 50], [0, 10, 20, 30, 40, 50], "y4"),
    yaxis4=yax([1 - 1777 / H, 1 - 1069 / H], [-2, 1], [-2, -1, 0, 1], "x4", ["-2", "-1", "0", "1"]),
)

ann = []


def paper_text(text, x, y, angle=0, size=86):
    ann.append(dict(text=text, x=x / W, y=1 - y / H, xref="paper", yref="paper",
                    xanchor="center", yanchor="middle", showarrow=False, textangle=angle,
                    font=dict(family=FONT, size=size, color="black")))


paper_text("wind speed [m/s]", 108, 422, -90)
paper_text("wind angle [deg]", 70, 1443, -90)
paper_text("wind speed [m/s]", 1930, 406, -90)
paper_text("wind angle [deg]", 1945, 1423, -90)
paper_text("time [s]", 968, 994)
paper_text("time [s]", 968, 2011)
paper_text("time [s]", 2788, 974)
paper_text("time [s]", 2788, 1995)
paper_text("(<b>a</b>)", 850, 2202, 0, 90)
paper_text("(<b>b</b>)", 2692, 2170, 0, 90)

# series labels v1..v5 (a) and v1..v6 (b), placed at the level of their lines
levels_a = [3.6, 7.95, 12.3, 16.7, 21.1]
for lab, lev in zip(speed_labels_a, levels_a):
    ann.append(dict(text="<i>v</i><sub>" + lab + "</sub>", x=1, y=lev, xref="x domain", yref="y",
                    xanchor="left", yanchor="middle", xshift=52, yshift=5, showarrow=False,
                    font=dict(family=FONT, size=90, color="black")))
levels_b = [1.41, 3.47, 6.95, 10.6, 14.35, 18.0]
shifts_b = [0, 12, 6, 6, 6, 6]
for lab, lev, ys in zip(speed_labels_b, levels_b, shifts_b):
    ann.append(dict(text="<i>v</i><sub>" + lab + "</sub>", x=1, y=lev, xref="x3 domain", yref="y3",
                    xanchor="left", yanchor="middle", xshift=56, yshift=ys, showarrow=False,
                    font=dict(family=FONT, size=90, color="black")))

fig.update_layout(annotations=ann)

fig.write_html("out.html", include_plotlyjs=True,
               config={"displayModeBar": False},
               post_script="document.body.style.margin='0';document.body.style.overflow='hidden';")
